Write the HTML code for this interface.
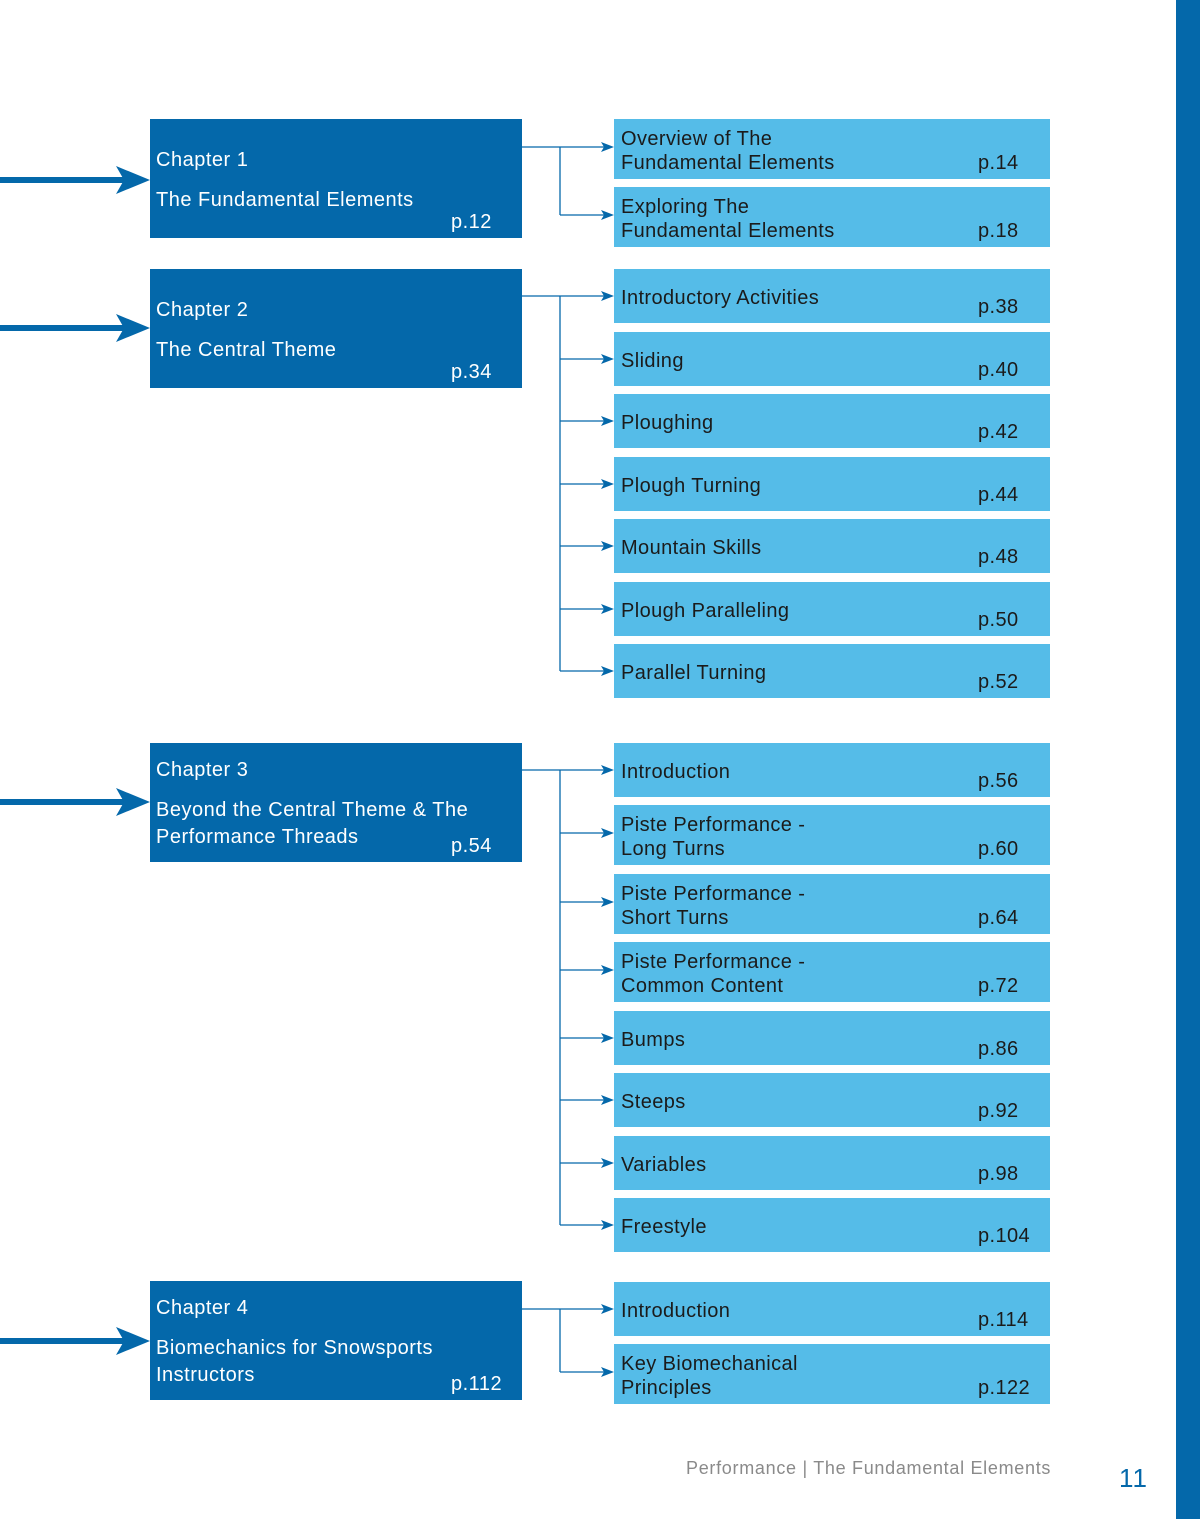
<!DOCTYPE html>
<html><head><meta charset="utf-8">
<style>
html,body{margin:0;padding:0}
body{width:1200px;height:1519px;position:relative;background:#fff;overflow:hidden;font-family:"Liberation Sans","DejaVu Sans",sans-serif}
.abs{position:absolute}
.ch{background:#0468aa;color:#fff;font-size:20px;letter-spacing:0.5px}
.sub{background:#55bce8;color:#1b1b1b;font-size:20px;letter-spacing:0.4px}
.t{position:absolute;white-space:nowrap;line-height:24px}
</style></head>
<body>
<div class="abs" style="left:1176px;top:0;width:24px;height:1519px;background:#0468aa"></div>
<svg id="lines" class="abs" style="left:0;top:0" width="1200" height="1519"></svg>
<div class="abs" style="left:686px;top:1458px;font-size:18px;color:#8a8a8a;white-space:nowrap;letter-spacing:0.7px">Performance | The Fundamental Elements</div>
<div class="abs" style="left:1119px;top:1463px;font-size:26px;color:#0468aa;letter-spacing:1px">11</div>
<script>
const chapters=[
 {title:"Chapter 1",lines:["The Fundamental Elements"],page:"p.12",top:119,arrowY:180},
 {title:"Chapter 2",lines:["The Central Theme"],page:"p.34",top:269,arrowY:328},
 {title:"Chapter 3",lines:["Beyond the Central Theme & The","Performance Threads"],page:"p.54",top:743,arrowY:802},
 {title:"Chapter 4",lines:["Biomechanics for Snowsports","Instructors"],page:"p.112",top:1281,arrowY:1341}
];
const sections=[
 [{l:["Overview of The","Fundamental Elements"],p:"p.14",top:119},{l:["Exploring The","Fundamental Elements"],p:"p.18",top:187}],
 [{l:["Introductory Activities"],p:"p.38",top:269},{l:["Sliding"],p:"p.40",top:332},{l:["Ploughing"],p:"p.42",top:394},{l:["Plough Turning"],p:"p.44",top:457},{l:["Mountain Skills"],p:"p.48",top:519},{l:["Plough Paralleling"],p:"p.50",top:582},{l:["Parallel Turning"],p:"p.52",top:644}],
 [{l:["Introduction"],p:"p.56",top:743},{l:["Piste Performance -","Long Turns"],p:"p.60",top:805},{l:["Piste Performance -","Short Turns"],p:"p.64",top:874},{l:["Piste Performance -","Common Content"],p:"p.72",top:942},{l:["Bumps"],p:"p.86",top:1011},{l:["Steeps"],p:"p.92",top:1073},{l:["Variables"],p:"p.98",top:1136},{l:["Freestyle"],p:"p.104",top:1198}],
 [{l:["Introduction"],p:"p.114",top:1282},{l:["Key Biomechanical","Principles"],p:"p.122",top:1344}]
];
const svg=document.getElementById('lines');
const NS="http://www.w3.org/2000/svg";
function mk(tag,attrs){const e=document.createElementNS(NS,tag);for(const k in attrs)e.setAttribute(k,attrs[k]);svg.appendChild(e);return e;}
function txt(parent,s,x,y){const d=document.createElement('div');d.className='t';d.style.left=x+'px';d.style.top=y+'px';d.textContent=s;parent.appendChild(d);return d;}
chapters.forEach((c,i)=>{
 const b=document.createElement('div');
 b.className='abs ch';b.style.left='150px';b.style.top=c.top+'px';b.style.width='372px';b.style.height='119px';
 
 
 document.body.appendChild(b);
 const two=c.lines.length>1;
 txt(b,c.title,6,two?15:29);
 if(two){txt(b,c.lines[0],6,55);txt(b,c.lines[1],6,82);}
 else txt(b,c.lines[0],6,69);
 txt(b,c.page,301,91);
 const a=mk('g',{});
 
 
 const y=c.arrowY;
 const ln=document.createElementNS(NS,'rect');ln.setAttribute('x',0);ln.setAttribute('y',y-3);ln.setAttribute('width',125);ln.setAttribute('height',6);ln.setAttribute('fill','#0468aa');a.appendChild(ln);
 const hd=document.createElementNS(NS,'polygon');hd.setAttribute('points',`116,${y-14} 150,${y} 116,${y+14} 124,${y}`);hd.setAttribute('fill','#0468aa');a.appendChild(hd);
 const subs=sections[i];
 const ys=subs.map(s=>s.top+(s.l.length>1?28:27));
 mk('line',{x1:522,y1:ys[0],x2:560,y2:ys[0],stroke:'#0468aa','stroke-width':1.3});
 mk('line',{x1:560,y1:ys[0],x2:560,y2:ys[ys.length-1],stroke:'#0468aa','stroke-width':1.3});
 subs.forEach((s,k)=>{
  const yy=ys[k];
  const g=mk('g',{});
  
  
  const l2=document.createElementNS(NS,'line');l2.setAttribute('x1',560);l2.setAttribute('y1',yy);l2.setAttribute('x2',608);l2.setAttribute('y2',yy);l2.setAttribute('stroke','#0468aa');l2.setAttribute('stroke-width',1.3);g.appendChild(l2);
  const h2=document.createElementNS(NS,'polygon');h2.setAttribute('points',`601,${yy-5} 614,${yy} 601,${yy+5} 604,${yy}`);h2.setAttribute('fill','#0468aa');g.appendChild(h2);
  const sb=document.createElement('div');
  const two=s.l.length>1;
  sb.className='abs sub';sb.style.left='614px';sb.style.top=s.top+'px';sb.style.width='436px';sb.style.height=(two?60:54)+'px';
  
  
  document.body.appendChild(sb);
  if(two){txt(sb,s.l[0],7,8);txt(sb,s.l[1],7,32);txt(sb,s.p,364,32);}
  else{txt(sb,s.l[0],7,17);txt(sb,s.p,364,26);}
 });
});
</script>
</body></html>
